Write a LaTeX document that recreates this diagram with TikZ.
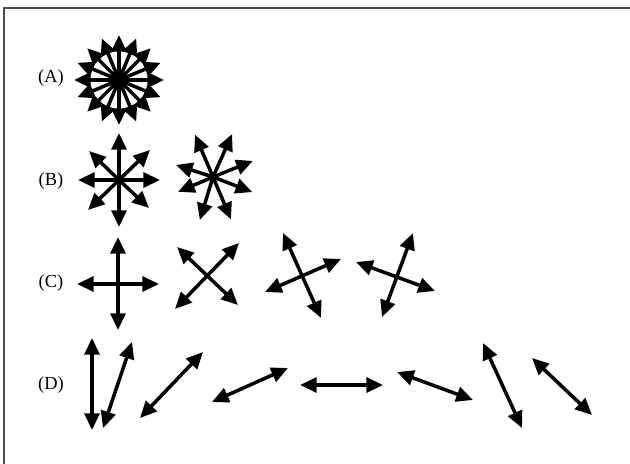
\documentclass[tikz,border=0pt]{standalone}
\usepackage{fontspec}
\setmainfont{Liberation Serif}
\usetikzlibrary{arrows.meta,calc}
\tikzset{
  dirarrow/.style={-{Triangle[length=9.5pt, width=8.5pt]}, line width=2pt},
  dblarrow/.style={{Triangle[length=9.5pt, width=8.5pt]}-{Triangle[length=9.5pt, width=8.5pt]}, line width=2pt},
  rowlabel/.style={font=\fontsize{10.5}{12}\selectfont, inner sep=0pt},
  frameline/.style={line width=0.6pt, black!70}
}

\begin{document}
\begin{tikzpicture}[x=0.02cm, y=-0.02cm]
  \useasboundingbox (0,0) rectangle (630,464);
  % frame
  \coordinate (fa) at (4,464);
  \coordinate (fb) at (4,8);
  \coordinate (fc) at (630,8);
  \draw[frameline] (fa) -- (fb) -- (fc);

  % row labels
  \node[rowlabel] (lA) at (51,78) {(A)};
  \node[rowlabel] (lB) at (51,181) {(B)};
  \node[rowlabel] (lC) at (51,283) {(C)};
  \node[rowlabel] (lD) at (51,385) {(D)};

  % (A) sixteen directions
  \coordinate (cA) at (119,80);
  \foreach \i in {0,...,15} {
    \coordinate (A\i) at ($(cA)+(\i*22.5:45)$);
    \draw[dirarrow] (cA) -- (A\i);
  }

  % (B) eight directions
  \coordinate (cB) at (119,180);
  \foreach \n/\x/\y in {t/119/133, b/119/227, l/78/180, r/160/180,
                        ul/89/151, ur/150/150, ll/88/210, lr/149/208} {
    \coordinate (B\n) at (\x,\y);
    \draw[dirarrow] (cB) -- (B\n);
  }
  \coordinate (cBB) at (213,177);
  \foreach \a/\r in {-113/46, -66/47, -22/43, 21/42, 67/46, 107/45, 157/38, -162/39} {
    \coordinate (BB\a) at ($(cBB)+(\a:\r)$);
    \draw[dirarrow] (cBB) -- (BB\a);
  }

  % (C) two axes
  \coordinate (c1t) at (118,237);
  \coordinate (c1b) at (118,330);
  \coordinate (c1l) at (77,284);
  \coordinate (c1r) at (159,284);
  \draw[dblarrow] (c1t) -- (c1b);
  \draw[dblarrow] (c1l) -- (c1r);
  \coordinate (c2a) at (239,243);
  \coordinate (c2b) at (175,309);
  \coordinate (c2c) at (177,247);
  \coordinate (c2d) at (238,305);
  \draw[dblarrow] (c2a) -- (c2b);
  \draw[dblarrow] (c2c) -- (c2d);
  \coordinate (c3a) at (283,233);
  \coordinate (c3b) at (321,318);
  \coordinate (c3c) at (265,292);
  \coordinate (c3d) at (341,259);
  \draw[dblarrow] (c3a) -- (c3b);
  \draw[dblarrow] (c3c) -- (c3d);
  \coordinate (c4a) at (413,233);
  \coordinate (c4b) at (382,317);
  \coordinate (c4c) at (356,262);
  \coordinate (c4d) at (435,291);
  \draw[dblarrow] (c4a) -- (c4b);
  \draw[dblarrow] (c4c) -- (c4d);

  % (D) one axis
  \foreach \n/\xa/\ya/\xb/\yb in {1/92/338/92/430, 2/132/342/103/428,
      3/203/352/140/418, 4/288/368/212/402, 5/300/385/383/385,
      6/397/372/473/400, 7/483/343/522/428, 8/532/358/592/415} {
    \coordinate (d\n a) at (\xa,\ya);
    \coordinate (d\n b) at (\xb,\yb);
    \draw[dblarrow] (d\n a) -- (d\n b);
  }
\end{tikzpicture}
\end{document}
